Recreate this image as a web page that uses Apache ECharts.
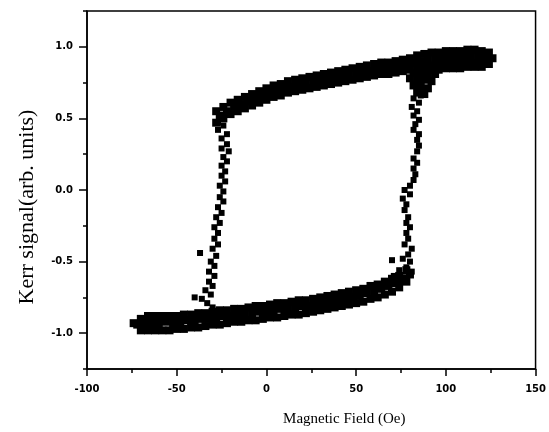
<!DOCTYPE html>
<html>
<head>
<meta charset="utf-8">
<script src="https://cdn.jsdelivr.net/npm/echarts@6/dist/echarts.min.js"></script>
<style>
  html, body { margin: 0; padding: 0; background: #fff; }
  #chart { width: 549px; height: 432px; }
</style>
</head>
<body>
<div id="chart"></div>
<script>
// tick values
let xMajorTicks = [-100, -50, 0, 50, 100, 150];
let yMajorTicks = [-1, -0.5, 0, 0.5, 1];

// upper branch (saturated +) in rows
let upperTop = [[-28,0.55],[-24,0.58],[-20,0.61],[-16,0.63],[-12,0.65],[-8,0.67],[-4,0.69],[0,0.71],[4,0.73],[8,0.74],[12,0.76],[16,0.77],[20,0.78],[24,0.79],[28,0.80],[32,0.81],[36,0.82],[40,0.83],[44,0.84],[48,0.85],[52,0.86],[56,0.87],[60,0.88],[64,0.89],[68,0.89],[72,0.90],[76,0.91],[80,0.92],[84,0.94],[88,0.95],[92,0.96],[96,0.96],[100,0.97],[104,0.97],[108,0.97],[112,0.98],[116,0.98],[120,0.97],[124,0.96]];
let upperMid = [[-26,0.52],[-22,0.55],[-18,0.58],[-14,0.60],[-10,0.62],[-6,0.64],[-2,0.66],[2,0.68],[6,0.69],[10,0.71],[14,0.72],[18,0.73],[22,0.75],[26,0.75],[30,0.77],[34,0.77],[38,0.79],[42,0.79],[46,0.81],[50,0.81],[54,0.83],[58,0.83],[62,0.85],[66,0.85],[70,0.86],[74,0.86],[78,0.88],[82,0.89],[86,0.90],[90,0.91],[94,0.91],[98,0.92],[102,0.92],[106,0.92],[110,0.93],[114,0.93],[118,0.93],[122,0.93],[126,0.92]];
let upperBottom = [[-28,0.47],[-24,0.50],[-20,0.53],[-16,0.55],[-12,0.57],[-8,0.59],[-4,0.61],[0,0.63],[4,0.65],[8,0.66],[12,0.68],[16,0.69],[20,0.70],[24,0.71],[28,0.72],[32,0.73],[36,0.74],[40,0.75],[44,0.76],[48,0.77],[52,0.78],[56,0.79],[60,0.80],[64,0.81],[68,0.81],[72,0.82],[76,0.83],[80,0.84],[84,0.85],[88,0.86],[92,0.87],[96,0.87],[100,0.88],[104,0.88],[108,0.88],[112,0.89],[116,0.89],[120,0.89],[124,0.88]];
let upperEnd = [[88,0.83],[92,0.84],[96,0.84],[100,0.85],[104,0.85],[108,0.85],[112,0.86],[116,0.86],[120,0.86],[82,0.82],[86,0.81],[90,0.80],[94,0.81],[80,0.78],[84,0.77],[88,0.77],[92,0.76],[82,0.73],[86,0.72],[90,0.71],[84,0.68],[88,0.67]];

// lower branch (saturated -)
let lowerTop = [[-70,-0.90],[-66,-0.88],[-62,-0.88],[-58,-0.88],[-54,-0.88],[-50,-0.88],[-46,-0.87],[-42,-0.87],[-38,-0.86],[-34,-0.86],[-30,-0.85],[-26,-0.84],[-22,-0.84],[-18,-0.83],[-14,-0.83],[-10,-0.82],[-6,-0.81],[-2,-0.81],[2,-0.80],[6,-0.79],[10,-0.79],[14,-0.78],[18,-0.77],[22,-0.77],[26,-0.76],[30,-0.75],[34,-0.74],[38,-0.73],[42,-0.72],[46,-0.71],[50,-0.70],[54,-0.69],[58,-0.67],[62,-0.66],[66,-0.64],[70,-0.62],[74,-0.60],[78,-0.56]];
let lowerMid = [[-74,-0.93],[-72,-0.94],[-68,-0.93],[-64,-0.93],[-60,-0.93],[-56,-0.92],[-52,-0.93],[-48,-0.92],[-44,-0.91],[-40,-0.91],[-36,-0.90],[-32,-0.90],[-28,-0.89],[-24,-0.88],[-20,-0.88],[-16,-0.87],[-12,-0.87],[-8,-0.86],[-4,-0.85],[0,-0.85],[4,-0.84],[8,-0.83],[12,-0.83],[16,-0.82],[20,-0.81],[24,-0.81],[28,-0.80],[32,-0.79],[36,-0.78],[40,-0.77],[44,-0.76],[48,-0.75],[52,-0.74],[56,-0.72],[60,-0.71],[64,-0.69],[68,-0.67],[72,-0.65],[76,-0.62],[80,-0.59]];
let lowerBottom = [[-70,-0.98],[-66,-0.98],[-62,-0.98],[-58,-0.98],[-54,-0.98],[-50,-0.97],[-46,-0.97],[-42,-0.96],[-38,-0.96],[-34,-0.95],[-30,-0.94],[-26,-0.94],[-22,-0.93],[-18,-0.92],[-14,-0.92],[-10,-0.91],[-6,-0.91],[-2,-0.90],[2,-0.89],[6,-0.89],[10,-0.88],[14,-0.87],[18,-0.87],[22,-0.86],[26,-0.85],[30,-0.84],[34,-0.83],[38,-0.82],[42,-0.81],[46,-0.80],[50,-0.79],[54,-0.78],[58,-0.76],[62,-0.75],[66,-0.73],[70,-0.71],[74,-0.68],[78,-0.64]];

// switching branches
let leftDrop = [[-27,0.47],[-24,0.45],[-27,0.42],[-22,0.39],[-25,0.36],[-22,0.32],[-25,0.29],[-21,0.27],[-24,0.23],[-22,0.20],[-25,0.17],[-23,0.13],[-25,0.10],[-23,0.06],[-26,0.03],[-24,-0.01],[-26,-0.05],[-24,-0.08],[-27,-0.12],[-25,-0.16],[-28,-0.19],[-26,-0.23],[-29,-0.26],[-27,-0.30],[-29,-0.34],[-27,-0.38],[-30,-0.41],[-37,-0.44],[-28,-0.46],[-31,-0.50],[-29,-0.53],[-32,-0.57],[-29,-0.60],[-32,-0.64],[-30,-0.67],[-34,-0.70],[-31,-0.73],[-36,-0.76],[-40,-0.75],[-33,-0.79],[-30,-0.82]];
let rightRise = [[86,0.66],[82,0.64],[85,0.61],[81,0.58],[84,0.55],[82,0.52],[85,0.49],[83,0.46],[82,0.42],[85,0.39],[84,0.35],[85,0.31],[84,0.27],[82,0.22],[84,0.19],[82,0.15],[83,0.11],[82,0.07],[80,0.03],[77,0.00],[80,-0.03],[76,-0.06],[78,-0.10],[77,-0.14],[79,-0.19],[78,-0.23],[80,-0.26],[78,-0.30],[79,-0.34],[77,-0.38],[81,-0.41],[79,-0.45],[70,-0.49],[76,-0.48],[80,-0.50],[78,-0.54],[74,-0.56],[81,-0.57],[71,-0.60],[77,-0.61],[75,-0.64]];

let bands = [].concat(upperTop, upperMid, upperBottom, upperEnd, lowerTop, lowerMid, lowerBottom);
let switching = [].concat(leftDrop, rightRise);

let chartDom = document.getElementById('chart');
let myChart = echarts.init(chartDom);
let tickFont = { color: '#000', fontFamily: 'DejaVu Sans', fontWeight: 'bold', fontSize: 10 };
let option;

option = {
    animation: false,
    grid: {
        left: 87,
        top: 11,
        width: 450,
        height: 361,
        show: true,
        borderColor: '#000',
        borderWidth: 1.5
    },
    xAxis: [
        {
            type: 'value',
            min: -100,
            max: 150,
            interval: 25,
            position: 'bottom',
            axisLine: { onZero: false, lineStyle: { color: '#000', width: 1.5 } },
            axisTick: { length: 4, lineStyle: { color: '#000', width: 1.5 } },
            axisLabel: { show: false },
            splitLine: { show: false },
            name: 'Magnetic Field (Oe)',
            nameLocation: 'middle',
            nameGap: 43,
            nameTextStyle: { color: '#000', fontFamily: 'Liberation Serif', fontSize: 15, padding: [0, 0, 0, 66] }
        },
        {
            type: 'value',
            min: -100,
            max: 150,
            position: 'bottom',
            axisLine: { show: false, onZero: false },
            axisTick: { customValues: xMajorTicks, length: 7, lineStyle: { color: '#000', width: 1.5 } },
            axisLabel: Object.assign({ customValues: xMajorTicks, margin: 15 }, tickFont),
            splitLine: { show: false }
        }
    ],
    yAxis: [
        {
            type: 'value',
            min: -1.25,
            max: 1.25,
            interval: 0.25,
            position: 'left',
            axisLine: { onZero: false, lineStyle: { color: '#000', width: 1.5 } },
            axisTick: { length: 4, lineStyle: { color: '#000', width: 1.5 } },
            axisLabel: { show: false },
            splitLine: { show: false },
            name: 'Kerr signal(arb. units)',
            nameLocation: 'middle',
            nameGap: 49,
            nameTextStyle: { color: '#000', fontFamily: 'Liberation Serif', fontSize: 22, padding: [0, 34, 0, 0] }
        },
        {
            type: 'value',
            min: -1.25,
            max: 1.25,
            position: 'left',
            axisLine: { show: false, onZero: false },
            axisTick: { customValues: yMajorTicks, length: 8, lineStyle: { color: '#000', width: 1.5 } },
            axisLabel: Object.assign({
                customValues: yMajorTicks,
                margin: 14,
                formatter: function (v) { return v.toFixed(1); }
            }, tickFont),
            splitLine: { show: false }
        }
    ],
    series: [
        {
            type: 'scatter',
            xAxisIndex: 0,
            yAxisIndex: 0,
            symbol: 'rect',
            symbolSize: 8,
            itemStyle: { color: '#000', opacity: 1 },
            data: bands
        },
        {
            type: 'scatter',
            xAxisIndex: 0,
            yAxisIndex: 0,
            symbol: 'rect',
            symbolSize: 6,
            itemStyle: { color: '#000', opacity: 1 },
            data: switching
        }
    ]
};

option && myChart.setOption(option);
</script>
</body>
</html>
